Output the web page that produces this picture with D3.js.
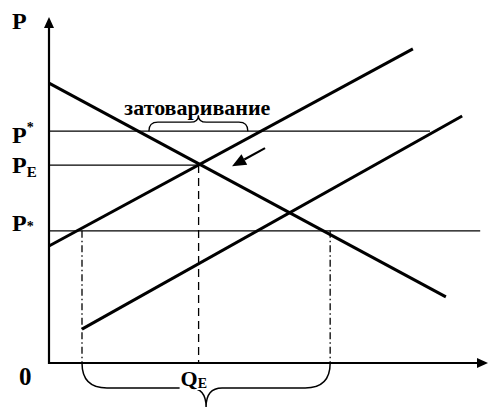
<!DOCTYPE html>
<html>
<head>
<meta charset="utf-8">
<script src="https://cdn.jsdelivr.net/npm/d3@7"></script>
<style>
  body { margin: 0; background: #fff; }
  svg { display: block; }
</style>
</head>
<body>
<script>
// price levels (P units) and their labels
const levelNames = ["P*", "PE", "P_*"];
const levelValues = [6.7, 5.72, 3.82];
const levelEnds = [8.66, 3.4, 9.8];

// lines: [Q, P] end points
const demand = [[0, 8.09], [9.02, 1.91]];
const supply1 = [[0, 3.38], [8.27, 9.08]];
const supply2 = [[0.75, 0.98], [9.39, 7.14]];

const qEquilibrium = 3.4;
const qSupplyLow = 0.75;
const qDemandLow = 6.39;

// surplus brace span on P* line
const surplusSpan = [2.27, 4.52];
const surplusLabel = "затоваривание";

// shift arrow
const shiftArrow = [[4.91, 6.21], [4.16, 5.69]];

const width = 488;
const height = 407;

const xScale = d3.scaleLinear().domain([0, 10]).range([49, 489]);
const yScale = d3.scaleLinear().domain([0, 10]).range([363, 17]);

const svg = d3
  .select("body")
  .append("svg")
  .attr("width", width)
  .attr("height", height)
  .attr("font-family", "'Liberation Serif', 'Times New Roman', serif")
  .attr("font-weight", "bold");

// horizontal price lines
svg
  .selectAll(".level")
  .data(levelValues)
  .enter()
  .append("line")
  .attr("x1", xScale(0))
  .attr("x2", (d, i) => xScale(levelEnds[i]))
  .attr("y1", (d) => yScale(d))
  .attr("y2", (d) => yScale(d))
  .attr("stroke", "#000")
  .attr("stroke-width", 1.3);

// vertical guides
svg
  .append("line")
  .attr("x1", xScale(qEquilibrium))
  .attr("x2", xScale(qEquilibrium))
  .attr("y1", yScale(levelValues[1]))
  .attr("y2", yScale(0))
  .attr("stroke", "#000")
  .attr("stroke-width", 1.3)
  .attr("stroke-dasharray", "8,5");

svg
  .selectAll(".dashdot")
  .data([qSupplyLow, qDemandLow])
  .enter()
  .append("line")
  .attr("x1", (d) => xScale(d))
  .attr("x2", (d) => xScale(d))
  .attr("y1", yScale(levelValues[2]))
  .attr("y2", yScale(0))
  .attr("stroke", "#000")
  .attr("stroke-width", 1.3)
  .attr("stroke-dasharray", "7,3,1.5,3");

// supply / demand lines
const line = d3
  .line()
  .x((d) => xScale(d[0]))
  .y((d) => yScale(d[1]));

svg
  .selectAll(".curve")
  .data([demand, supply1, supply2])
  .enter()
  .append("path")
  .attr("d", line)
  .attr("fill", "none")
  .attr("stroke", "#000")
  .attr("stroke-width", 3);

// axes
const x0 = xScale(0);
const y0 = yScale(0);
svg
  .append("line")
  .attr("x1", x0)
  .attr("x2", x0)
  .attr("y1", y0 + 1)
  .attr("y2", yScale(10) + 8)
  .attr("stroke", "#000")
  .attr("stroke-width", 2.2);
svg
  .append("path")
  .attr("d", `M${x0},${yScale(10)} L${x0 - 5},${yScale(10) + 11} L${x0 + 5},${yScale(10) + 11} Z`)
  .attr("fill", "#000");

svg
  .append("line")
  .attr("x1", x0 - 1)
  .attr("x2", width - 8)
  .attr("y1", y0)
  .attr("y2", y0)
  .attr("stroke", "#000")
  .attr("stroke-width", 2.2);
svg
  .append("path")
  .attr("d", `M${width},${y0} L${width - 11},${y0 - 5} L${width - 11},${y0 + 5} Z`)
  .attr("fill", "#000");

// shift arrow
const [a0, a1] = shiftArrow.map((d) => [xScale(d[0]), yScale(d[1])]);
const ang = Math.atan2(a1[1] - a0[1], a1[0] - a0[0]);
const hl = 14;
const hw = 6;
const base = [a1[0] - hl * Math.cos(ang), a1[1] - hl * Math.sin(ang)];
svg
  .append("line")
  .attr("x1", a0[0])
  .attr("y1", a0[1])
  .attr("x2", base[0])
  .attr("y2", base[1])
  .attr("stroke", "#000")
  .attr("stroke-width", 2.2);
svg
  .append("path")
  .attr(
    "d",
    `M${a1[0]},${a1[1]} L${base[0] + hw * Math.sin(ang)},${base[1] - hw * Math.cos(ang)} L${base[0] - hw * Math.sin(ang)},${base[1] + hw * Math.cos(ang)} Z`
  )
  .attr("fill", "#000");

// braces
const brace = (xa, xb, yb, depth, tip, dir, rt) => {
  // dir = 1 tip below, -1 tip above
  const xm = (xa + xb) / 2;
  const yh = yb + dir * depth;
  const yt = yb + dir * tip;
  const r = depth;
  return (
    `M${xa},${yb} Q${xa},${yh} ${xa + r},${yh} ` +
    `L${xm - rt},${yh} Q${xm},${yh} ${xm},${yt} ` +
    `Q${xm},${yh} ${xm + rt},${yh} ` +
    `L${xb - r},${yh} Q${xb},${yh} ${xb},${yb}`
  );
};

svg
  .append("path")
  .attr("d", brace(xScale(qSupplyLow), xScale(qDemandLow), y0, 25, 44, 1, 16))
  .attr("fill", "none")
  .attr("stroke", "#000")
  .attr("stroke-width", 1.5);

svg
  .append("path")
  .attr("d", brace(xScale(surplusSpan[0]), xScale(surplusSpan[1]), yScale(levelValues[0]), 9, 16, -1, 8))
  .attr("fill", "none")
  .attr("stroke", "#000")
  .attr("stroke-width", 1.3);

svg
  .append("text")
  .attr("x", xScale((surplusSpan[0] + surplusSpan[1]) / 2) - 1)
  .attr("y", yScale(levelValues[0]) - 16)
  .attr("text-anchor", "middle")
  .attr("font-size", 22)
  .text(surplusLabel);

// axis labels
svg
  .append("text")
  .attr("x", 12)
  .attr("y", 29)
  .attr("font-size", 24)
  .text("P");

svg
  .append("text")
  .attr("x", 19)
  .attr("y", 385)
  .attr("font-size", 25)
  .text("0");

// Q_E label sits on the brace with a white backing
svg
  .append("rect")
  .attr("x", xScale(qEquilibrium) - 19)
  .attr("y", 378)
  .attr("width", 30)
  .attr("height", 12)
  .attr("fill", "#fff");

const qLabel = svg
  .append("text")
  .attr("x", xScale(qEquilibrium) - 18)
  .attr("y", 386)
  .attr("font-size", 22);
qLabel.append("tspan").text("Q");
qLabel.append("tspan").attr("font-size", 14).attr("dy", 2).text("E");

// price level labels
const labelOffsets = [12, 8, 0];
const pLabels = svg
  .selectAll(".plabel")
  .data(levelValues)
  .enter()
  .append("text")
  .attr("x", 12)
  .attr("y", (d, i) => yScale(d) + labelOffsets[i])
  .attr("font-size", 24);

pLabels.append("tspan").text("P");
pLabels
  .append("tspan")
  .attr("font-size", (d, i) => (i === 1 ? 15 : 14))
  .attr("dy", (d, i) => (i === 0 ? -11 : i === 1 ? 4 : 0))
  .text((d, i) => (levelNames[i] === "PE" ? "E" : "*"));
</script>
</body>
</html>
